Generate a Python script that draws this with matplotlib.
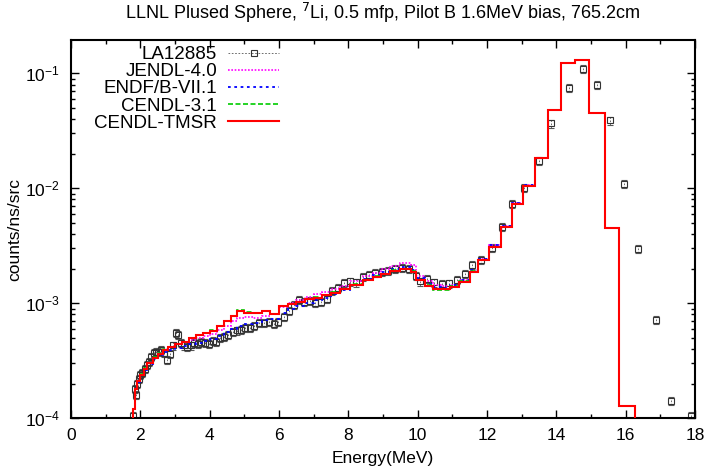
import matplotlib
matplotlib.use("Agg")
import matplotlib.pyplot as plt
import numpy as np
from matplotlib.lines import Line2D
from matplotlib.ticker import LogLocator, MultipleLocator, NullFormatter

plt.rcParams['font.family'] = ['Liberation Sans', 'DejaVu Sans']

# bin edges (MeV) of the calculated spectra
edges = [1.80, 1.85, 1.90, 2.00, 2.10, 2.20, 2.35, 2.50, 2.65, 2.80, 3.00,
         3.20, 3.40, 3.60, 3.80, 4.00, 4.20, 4.40, 4.60, 4.80, 5.00, 5.25,
         5.50, 5.75, 6.00, 6.25, 6.50, 6.75, 7.00, 7.25, 7.50, 7.75, 8.05,
         8.42, 8.71, 8.95, 9.19, 9.48, 9.81, 9.96, 10.20, 10.43, 10.68,
         10.92, 11.20, 11.50, 11.74, 12.07, 12.41, 12.72, 13.03, 13.39,
         13.75, 14.12, 14.55, 14.93, 15.39, 15.80, 16.28]

cendl_tmsr = [1.2e-4, 1.8e-4, 2.1e-4, 2.4e-4, 2.7e-4, 3.0e-4, 3.35e-4, 3.65e-4,
              3.95e-4, 4.15e-4, 4.4e-4, 4.6e-4, 4.95e-4, 5.25e-4, 5.5e-4,
              5.75e-4, 6.3e-4, 7.0e-4, 7.7e-4, 8.6e-4, 8.3e-4, 8.2e-4, 8.5e-4,
              8.0e-4, 9.5e-4, 9.8e-4, 1.02e-3, 1.08e-3, 1.12e-3, 1.17e-3,
              1.24e-3, 1.33e-3, 1.45e-3, 1.59e-3, 1.71e-3, 1.80e-3, 1.92e-3,
              1.99e-3, 1.88e-3, 1.59e-3, 1.41e-3, 1.32e-3, 1.32e-3, 1.39e-3,
              1.54e-3, 1.88e-3, 2.38e-3, 3.1e-3, 4.64e-3, 7.3e-3, 1.05e-2,
              1.85e-2, 4.8e-2, 0.122, 0.130, 0.045, 4.5e-3, 1.28e-4]

cendl_31 = [1.2e-4, 1.8e-4, 2.1e-4, 2.45e-4, 2.75e-4, 3.05e-4, 3.4e-4, 3.7e-4,
            4.0e-4, 4.2e-4, 4.45e-4, 4.65e-4, 5.0e-4, 5.3e-4, 5.5e-4,
            5.8e-4, 6.3e-4, 7.0e-4, 7.8e-4, 8.8e-4, 8.4e-4, 8.3e-4, 8.5e-4,
            8.1e-4, 9.5e-4, 9.8e-4, 1.03e-3, 1.08e-3, 1.13e-3, 1.18e-3,
            1.25e-3, 1.34e-3, 1.46e-3, 1.60e-3, 1.72e-3, 1.81e-3, 1.93e-3,
            2.0e-3, 1.90e-3, 1.60e-3, 1.43e-3, 1.30e-3, 1.30e-3, 1.40e-3,
            1.56e-3, 1.90e-3, 2.40e-3, 3.1e-3, 4.6e-3, 7.3e-3, 1.05e-2,
            1.85e-2, 4.8e-2, 0.122, 0.130, 0.045, 4.5e-3, 1.28e-4]

jendl_40 = [1.2e-4, 1.8e-4, 2.1e-4, 2.4e-4, 2.7e-4, 3.0e-4, 3.35e-4, 3.7e-4,
            4.0e-4, 4.2e-4, 4.45e-4, 4.6e-4, 4.8e-4, 5.0e-4, 5.2e-4,
            5.4e-4, 5.8e-4, 6.4e-4, 7.0e-4, 7.5e-4, 7.6e-4, 7.5e-4, 7.8e-4,
            8.0e-4, 9.2e-4, 1.0e-3, 1.06e-3, 1.13e-3, 1.2e-3, 1.25e-3,
            1.33e-3, 1.42e-3, 1.56e-3, 1.72e-3, 1.85e-3, 1.98e-3, 2.12e-3,
            2.22e-3, 2.15e-3, 1.72e-3, 1.55e-3, 1.45e-3, 1.40e-3, 1.45e-3,
            1.60e-3, 1.92e-3, 2.45e-3, 3.2e-3, 4.7e-3, 7.4e-3, 1.06e-2,
            1.85e-2, 4.8e-2, 0.122, 0.130, 0.045, 4.5e-3, 1.28e-4]

endf_b71 = [1.2e-4, 1.75e-4, 2.05e-4, 2.35e-4, 2.65e-4, 2.95e-4, 3.3e-4, 3.55e-4,
            3.8e-4, 3.95e-4, 4.1e-4, 4.25e-4, 4.4e-4, 4.55e-4, 4.7e-4,
            4.85e-4, 5.2e-4, 5.6e-4, 6.0e-4, 6.4e-4, 6.6e-4, 6.8e-4, 7.1e-4,
            7.3e-4, 8.3e-4, 9.0e-4, 9.5e-4, 1.0e-3, 1.06e-3, 1.12e-3,
            1.2e-3, 1.3e-3, 1.45e-3, 1.62e-3, 1.76e-3, 1.88e-3, 2.0e-3,
            2.05e-3, 1.95e-3, 1.65e-3, 1.48e-3, 1.38e-3, 1.36e-3, 1.43e-3,
            1.60e-3, 1.95e-3, 2.45e-3, 3.2e-3, 4.7e-3, 7.4e-3, 1.06e-2,
            1.85e-2, 4.8e-2, 0.122, 0.130, 0.045, 4.5e-3, 1.28e-4]

# LA12885 measurement
exp_e = [1.80, 1.83, 1.86, 1.90, 1.95, 2.00, 2.06, 2.12, 2.18, 2.24, 2.31,
         2.38, 2.45, 2.52, 2.60, 2.68, 2.76, 2.85, 2.95, 3.02, 3.08, 3.16,
         3.25, 3.35, 3.45, 3.55, 3.65, 3.75, 3.86, 3.97, 4.08, 4.19, 4.30,
         4.42, 4.54, 4.66, 4.78, 4.90, 5.03, 5.16, 5.29, 5.42, 5.56, 5.70,
         5.84, 5.98, 6.13, 6.28, 6.43, 6.58, 6.73, 6.89, 7.05, 7.21, 7.37,
         7.54, 7.71, 7.88, 8.05, 8.23, 8.41, 8.59, 8.77, 8.96, 9.15, 9.34,
         9.54, 9.74, 9.95, 10.06, 10.27, 10.48, 10.69, 10.91, 11.13, 11.35,
         11.58, 11.82, 12.15, 12.43, 12.72, 13.08, 13.49, 13.85, 14.35,
         14.76, 15.18, 15.56, 15.94, 16.35, 16.86, 17.31, 17.87]
exp_val = [1.05e-4, 1.8e-4, 1.6e-4, 2.0e-4, 2.2e-4, 2.4e-4, 2.5e-4, 2.7e-4,
           2.9e-4, 3.1e-4, 3.4e-4, 3.7e-4, 3.8e-4, 3.8e-4, 3.9e-4, 3.7e-4,
           3.2e-4, 3.6e-4, 4.3e-4, 5.5e-4, 5.3e-4, 4.5e-4, 4.3e-4, 4.2e-4,
           4.3e-4, 4.5e-4, 4.4e-4, 4.6e-4, 4.5e-4, 4.4e-4, 4.7e-4, 4.6e-4,
           5.0e-4, 5.1e-4, 5.3e-4, 5.6e-4, 5.8e-4, 5.9e-4, 6.1e-4, 6.1e-4,
           6.4e-4, 6.7e-4, 6.7e-4, 6.9e-4, 6.6e-4, 6.9e-4, 7.6e-4, 8.6e-4,
           9.6e-4, 1.07e-3, 1.02e-3, 1.05e-3, 1.0e-3, 1.02e-3, 1.1e-3,
           1.28e-3, 1.35e-3, 1.5e-3, 1.55e-3, 1.52e-3, 1.7e-3, 1.78e-3,
           1.85e-3, 1.88e-3, 1.92e-3, 2.0e-3, 2.02e-3, 2.0e-3, 1.72e-3,
           1.55e-3, 1.62e-3, 1.52e-3, 1.48e-3, 1.49e-3, 1.6e-3, 1.8e-3,
           2.15e-3, 2.4e-3, 3.05e-3, 4.6e-3, 7.3e-3, 1.0e-2, 1.73e-2,
           3.67e-2, 7.5e-2, 0.109, 0.080, 0.039, 1.1e-2, 2.95e-3, 7.2e-4,
           1.42e-4, 1.04e-4]
rel_err = 0.08

fig, ax = plt.subplots(figsize=(7.18, 4.71), dpi=100)
fig.subplots_adjust(left=0.099, right=0.968, bottom=0.112, top=0.915)

exp = np.array(exp_val)
eb = ax.errorbar(exp_e, exp, yerr=exp * rel_err, fmt='s', ms=5, mfc='none',
                 mec='#333333', mew=0.8, ecolor='#555555', elinewidth=0.6,
                 capsize=2, capthick=0.6, zorder=2)
for lc in eb[2]:
    lc.set_linestyle((0, (2, 2)))

ax.stairs(jendl_40, edges, baseline=1e-6, color='#ff00ff', lw=1.2,
          linestyle=(0, (1, 1)), zorder=3)
ax.stairs(endf_b71, edges, baseline=1e-6, color='#0000ff', lw=1.3,
          linestyle=(0, (1.5, 2)), zorder=3)
ax.stairs(cendl_31, edges, baseline=1e-6, color='#00cc00', lw=1.2,
          linestyle=(0, (3, 1.5)), zorder=3)
ax.stairs(cendl_tmsr, edges, baseline=1e-6, color='#ff0000', lw=1.5, zorder=4)

ax.set_yscale('log')
ax.set_xlim(0, 18)
ax.set_ylim(1e-4, 0.195)
ax.xaxis.set_major_locator(MultipleLocator(2))
ax.xaxis.set_minor_locator(MultipleLocator(1))
ax.yaxis.set_major_locator(LogLocator(base=10, numticks=10))
ax.yaxis.set_minor_locator(LogLocator(base=10, subs=np.arange(2, 10), numticks=10))
ax.yaxis.set_minor_formatter(NullFormatter())
ax.tick_params(which='both', direction='in', top=True, right=True, labelsize=12.5)
ax.tick_params(axis='x', pad=7)
ax.tick_params(axis='y', pad=8)
ax.tick_params(which='major', length=6, width=1)
ax.tick_params(which='minor', length=3, width=1)
for s in ax.spines.values():
    s.set_linewidth(1.5)

ax.set_xlabel('Energy(MeV)', fontsize=12.5, labelpad=6)
ax.set_ylabel('counts/ns/src', fontsize=12.5)
ax.yaxis.set_label_coords(-0.078, 0.5)
ax.set_title('LLNL Plused Sphere, $^{7}$Li, 0.5 mfp, Pilot B 1.6MeV bias, 765.2cm',
             fontsize=13, pad=15)

handles = [
    Line2D([], [], color='#555555', lw=0.6, ls=(0, (2, 2)), marker='s', ms=5,
           mfc='none', mec='#333333', mew=0.8),
    Line2D([], [], color='#ff00ff', lw=1.2, ls=(0, (1, 1))),
    Line2D([], [], color='#0000ff', lw=1.3, ls=(0, (1.5, 2))),
    Line2D([], [], color='#00cc00', lw=1.2, ls=(0, (3, 1.5))),
    Line2D([], [], color='#ff0000', lw=1.5),
]
labels = ['LA12885', 'JENDL-4.0', 'ENDF/B-VII.1', 'CENDL-3.1', 'CENDL-TMSR']
ax.legend(handles, labels, loc='upper right', bbox_to_anchor=(0.333, 0.984),
          frameon=False, markerfirst=False, fontsize=13.5, handlelength=2.7,
          labelspacing=0.0, handletextpad=0.6, borderpad=0.0, borderaxespad=0.0)

fig.savefig('out.png', dpi=100)
